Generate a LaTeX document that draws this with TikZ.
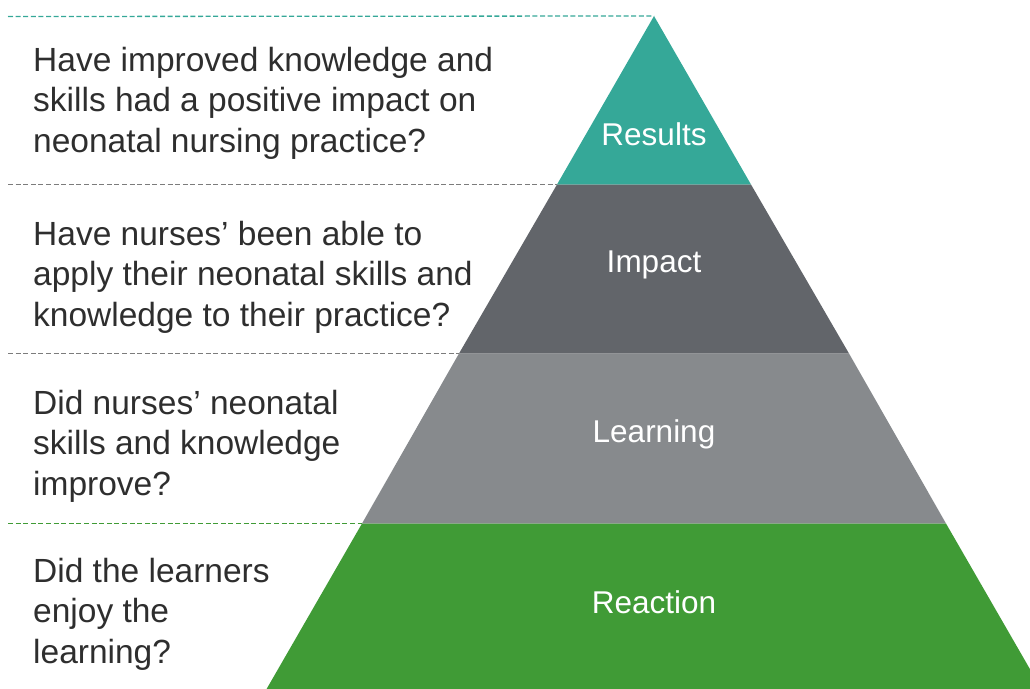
\documentclass[tikz,border=0pt]{standalone}
\usepackage{fontspec}
\setmainfont{Liberation Sans}
\definecolor{tierteal}{HTML}{35A898}
\definecolor{tierdark}{HTML}{62656A}
\definecolor{tiermid}{HTML}{878A8D}
\definecolor{tiergreen}{HTML}{409B36}
\definecolor{qtext}{HTML}{2E2E2E}
\definecolor{guidegray}{HTML}{7C7C7C}
\begin{document}
\begin{tikzpicture}[x=1pt,y=-1pt,
  question/.style={anchor=base west, inner sep=0pt, align=left, text=qtext,
    font=\fontsize{33.5}{40.5}\selectfont},
  tierlabel/.style={anchor=base, inner sep=0pt, text=white,
    font=\fontsize{31.5}{36}\selectfont},
  guide/.style={line width=1.3pt, dash pattern=on 5pt off 2.6pt}]
\useasboundingbox (0,0) rectangle (1030,688);
\clip (0,0) rectangle (1030,688);

% pyramid corners and tier boundaries
\coordinate (apex) at (654,16);
\coordinate (l1) at (557,184.5);  \coordinate (r1) at (751,184.5);
\coordinate (l2) at (459,353.5);  \coordinate (r2) at (849,353.5);
\coordinate (l3) at (362,523.5);  \coordinate (r3) at (946,523.5);
\coordinate (l4) at (266,690);    \coordinate (r4) at (1042,690);

% tiers
\fill[tierteal]  (apex) -- (r1) -- (l1) -- cycle;
\fill[tierdark]  (l1) -- (r1) -- (r2) -- (l2) -- cycle;
\fill[tiermid]   (l2) -- (r2) -- (r3) -- (l3) -- cycle;
\fill[tiergreen] (l3) -- (r3) -- (r4) -- (l4) -- cycle;

% dashed guides from the left margin to the pyramid edge
\coordinate (g0) at (8,16.5);
\coordinate (g1) at (8,184.5);
\coordinate (g2) at (8,353.5);
\coordinate (g3) at (8,523.5);
\draw[guide, tierteal]  (g0) -- (apex);
\draw[guide, guidegray] (g1) -- (l1);
\draw[guide, guidegray] (g2) -- (l2);
\draw[guide, tiergreen] (g3) -- (l3);

% tier labels
\node[tierlabel] (results)  at (654,145) {Results};
\node[tierlabel] (impact)   at (654,272) {Impact};
\node[tierlabel] (learning) at (654,442) {Learning};
\node[tierlabel] (reaction) at (654,613) {Reaction};

% evaluation questions (anchored on the baseline of their last line)
\node[question] (q1) at (33,152) {Have improved knowledge and\\skills had a positive impact on\\neonatal nursing practice?};
\node[question] (q2) at (33,326) {Have nurses’ been able to\\apply their neonatal skills and\\knowledge to their practice?};
\node[question] (q3) at (33,495) {Did nurses’ neonatal\\skills and knowledge\\improve?};
\node[question] (q4) at (33,663) {Did the learners\\enjoy the\\learning?};
\end{tikzpicture}
\end{document}
